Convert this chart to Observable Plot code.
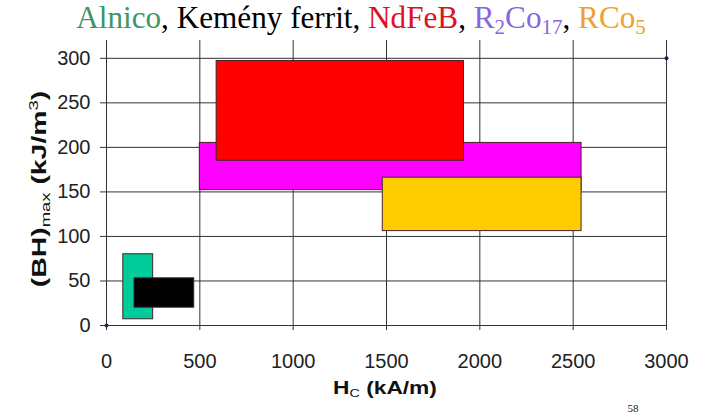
<!DOCTYPE html>
<html>
<head>
<meta charset="utf-8">
<script src="https://cdn.jsdelivr.net/npm/d3@7"></script>
<script src="https://cdn.jsdelivr.net/npm/@observablehq/plot@0.6"></script>
<style>
  body { margin: 0; background: #fff; }
  #wrap { position: relative; width: 702px; height: 414px; overflow: hidden; }
  #title { height: 40px; line-height: 36px; font-family: "Liberation Serif", "Times New Roman", serif; font-size: 31.2px; text-align: center; padding-left: 20px; white-space: nowrap; }
  #title sub { font-size: 21px; vertical-align: -6px; line-height: 0; }
</style>
</head>
<body>
<div id="wrap">
  <div id="title"><span style="color:#3f9468">Alnico</span>, <span style="color:#000">Kemény ferrit</span>, <span style="color:#dd1122">NdFeB</span>, <span style="color:#8866dd">R<sub>2</sub>Co<sub>17</sub></span>, <span style="color:#eea033">RCo<sub>5</sub></span></div>
  <div id="chart"></div>
</div>
<script>
// Material regions: coercivity Hc (kA/m) and (BH)max (kJ/m^3)
const names = ["Alnico", "Kemény ferrit", "R2Co17", "NdFeB", "RCo5"];
const hcMin = [90, 150, 500, 590, 1480];
const hcMax = [250, 470, 2545, 1915, 2545];
const bhMin = [7, 20, 152, 185, 106];
const bhMax = [80, 53, 205, 297, 166];
const fillColors = ["#00cc99", "#000000", "#ff00ff", "#ff0000", "#ffcc00"];

// corner marker points
const markerHc = [0, 3000];
const markerBh = [0, 300];

const xTicks = [0, 500, 1000, 1500, 2000, 2500, 3000];
const yTicks = [0, 50, 100, 150, 200, 250, 300];

const regions = names.map((n, i) => ({name: n, x1: hcMin[i], x2: hcMax[i], y1: bhMin[i], y2: bhMax[i]}));
const markers = markerHc.map((h, i) => ({hc: h, bh: markerBh[i]}));

const chart = Plot.plot({
  width: 702,
  height: 374,
  marginLeft: 106,
  marginRight: 36,
  marginTop: 0,
  marginBottom: 89,
  x: {domain: [0, 3000]},
  y: {domain: [0, 320]},
  color: {domain: names, range: fillColors},
  style: {fontFamily: "'Liberation Sans', Arial, sans-serif", fontSize: "20px", color: "#222", background: "transparent"},
  marks: [
    Plot.ruleX(xTicks, {stroke: "#333", strokeWidth: 1}),
    Plot.ruleY(yTicks, {stroke: "#333", strokeWidth: 1}),
    Plot.rect(regions, {x1: "x1", x2: "x2", y1: "y1", y2: "y2", fill: "name", stroke: "#442233", strokeWidth: 1}),
    Plot.dot(markers, {x: "hc", y: "bh", r: 2, fill: "#1a1a6e", stroke: null}),
    Plot.axisX({ticks: xTicks, tickSize: 5, tickPadding: 23, tickFormat: d3.format("d"), label: null, stroke: "#333"}),
    Plot.axisY({ticks: yTicks, tickSize: 6, tickPadding: 10, tickFormat: d3.format("d"), label: null, stroke: "#333"})
  ]
});
document.getElementById("chart").appendChild(chart);

const svg = d3.select(chart);
// x-axis label
const xl = svg.append("text")
  .attr("transform", "translate(385,354) scale(1.3,1)")
  .attr("text-anchor", "middle")
  .attr("font-family", "'Liberation Sans', Arial, sans-serif")
  .attr("font-weight", "bold").attr("font-size", 17.5).attr("fill", "#111");
xl.append("tspan").text("H");
xl.append("tspan").attr("font-size", 11).attr("font-weight", "normal").attr("dy", 3).text("C");
xl.append("tspan").attr("dy", -3).text(" (kA/m)");

// y-axis label
const yl = svg.append("text")
  .attr("transform", "translate(46,149) rotate(-90) scale(1.42,1)")
  .attr("text-anchor", "middle")
  .attr("font-family", "'Liberation Sans', Arial, sans-serif")
  .attr("font-weight", "bold").attr("font-size", 20).attr("fill", "#111");
yl.append("tspan").text("(BH)");
yl.append("tspan").attr("font-size", 13).attr("font-weight", "normal").attr("dy", 4).text("max");
yl.append("tspan").attr("dy", -4).text(" (kJ/m");
yl.append("tspan").attr("font-size", 13).attr("font-weight", "normal").attr("dy", -8).text("3");
yl.append("tspan").attr("dy", 8).text(")");

// page number
svg.append("text")
  .attr("x", 633).attr("y", 372)
  .attr("text-anchor", "middle")
  .attr("font-family", "'Liberation Serif', serif")
  .attr("font-size", 11).attr("fill", "#222")
  .text("58");
</script>
</body>
</html>
